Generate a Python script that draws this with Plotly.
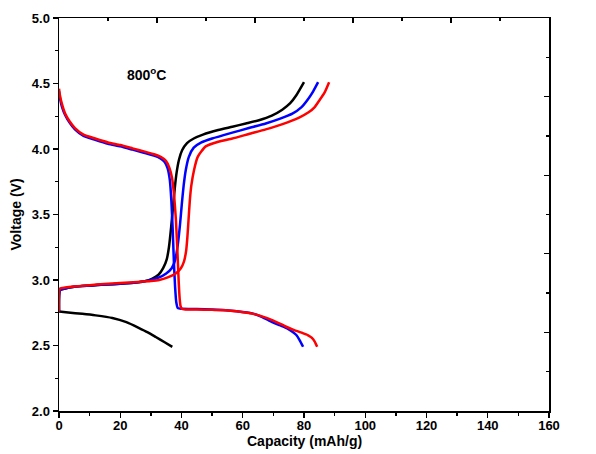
import plotly.graph_objects as go

# ---- data (capacity mAh/g, voltage V) ----
black_dis_cap = [0, 3, 7.6, 12, 17.4, 22, 26, 29, 31.6, 34.5, 37]
black_dis_v = [2.76, 2.752, 2.742, 2.73, 2.71, 2.678, 2.635, 2.6, 2.565, 2.525, 2.49]

black_chg_cap = [0, 0.3, 2, 5, 10, 15, 20, 25, 28, 30.5, 32.5, 34, 35.2, 35.9, 36.6, 37.2, 37.8, 38.4, 39.2, 40.2, 41.8, 44, 47, 52, 56.6, 61, 65.3, 69.5, 72.9, 75.5, 77.5, 80]
black_chg_v = [2.76, 2.92, 2.935, 2.948, 2.957, 2.965, 2.972, 2.98, 2.99, 3.01, 3.04, 3.09, 3.16, 3.25, 3.4, 3.55, 3.7, 3.82, 3.92, 3.99, 4.045, 4.08, 4.11, 4.145, 4.17, 4.195, 4.22, 4.255, 4.30, 4.35, 4.41, 4.51]

blue_dis_cap = [0, 0.3, 1, 2, 3.5, 5.2, 8, 11.8, 16, 20, 24, 28, 31, 33, 34.5, 35.5, 36.2, 36.7, 37.1, 37.5, 37.9, 38.3, 38.8, 40, 45, 50, 54.4, 58, 63.1, 66, 68.6, 72, 74.5, 76.2, 77.5, 78.6, 79.7]
blue_dis_v = [4.44, 4.39, 4.32, 4.26, 4.2, 4.15, 4.1, 4.07, 4.04, 4.02, 3.995, 3.97, 3.95, 3.93, 3.9, 3.85, 3.76, 3.6, 3.4, 3.15, 2.95, 2.83, 2.785, 2.78, 2.778, 2.775, 2.77, 2.762, 2.745, 2.72, 2.69, 2.655, 2.63, 2.605, 2.58, 2.54, 2.49]

blue_chg_cap = [0, 0.3, 2, 5, 10, 15, 20, 25, 29, 32.7, 35, 36.8, 38, 38.8, 39.5, 40.1, 40.7, 41.4, 42.4, 44, 46.5, 50, 56.6, 62, 67.5, 72, 76.2, 79.2, 81.3, 83, 84.6]
blue_chg_v = [2.76, 2.92, 2.935, 2.948, 2.957, 2.965, 2.972, 2.98, 2.995, 3.02, 3.05, 3.09, 3.16, 3.27, 3.42, 3.58, 3.72, 3.84, 3.94, 4.01, 4.05, 4.08, 4.125, 4.16, 4.195, 4.23, 4.27, 4.32, 4.38, 4.44, 4.51]

red_dis_cap = [0, 0.3, 1, 2, 3.5, 5.2, 8, 11.8, 16, 20, 24, 28, 31, 33.2, 34.9, 36, 36.9, 37.6, 38.2, 38.7, 39.1, 39.4, 39.7, 40.2, 41.5, 45, 50, 54.4, 58, 62, 65.3, 70, 74, 77, 79.5, 81.2, 82.5, 83.5, 84.3]
red_dis_v = [4.46, 4.41, 4.34, 4.27, 4.21, 4.16, 4.11, 4.08, 4.05, 4.03, 4.005, 3.98, 3.96, 3.94, 3.91, 3.86, 3.78, 3.64, 3.45, 3.2, 2.98, 2.86, 2.8, 2.778, 2.775, 2.774, 2.772, 2.77, 2.762, 2.748, 2.73, 2.69, 2.645, 2.615, 2.595, 2.58, 2.56, 2.53, 2.49]

red_chg_cap = [0, 0.3, 2, 4.9, 10, 14.7, 20, 25.6, 30, 32.7, 35.5, 38.1, 39.8, 40.8, 41.5, 41.9, 42.3, 42.7, 43.2, 44.1, 45.3, 47.9, 52, 56.6, 62, 67.5, 73, 78.4, 81.5, 83.5, 85, 86.7, 88.2]
red_chg_v = [2.76, 2.935, 2.942, 2.95, 2.96, 2.97, 2.977, 2.985, 2.992, 3.0, 3.02, 3.05, 3.09, 3.14, 3.22, 3.32, 3.46, 3.6, 3.72, 3.84, 3.94, 4.02, 4.055, 4.08, 4.115, 4.15, 4.19, 4.24, 4.28, 4.32, 4.37, 4.43, 4.51]

x_ticks = [0, 20, 40, 60, 80, 100, 120, 140, 160]
y_ticks = [2.0, 2.5, 3.0, 3.5, 4.0, 4.5, 5.0]

FONT = "Liberation Sans, Arial, sans-serif"

fig = go.Figure()

series = [
    (black_dis_cap, black_dis_v, "black"),
    (black_chg_cap, black_chg_v, "black"),
    (blue_dis_cap, blue_dis_v, "#0000FF"),
    (blue_chg_cap, blue_chg_v, "#0000FF"),
    (red_dis_cap, red_dis_v, "#FF0000"),
    (red_chg_cap, red_chg_v, "#FF0000"),
]
for xs, ys, c in series:
    fig.add_trace(go.Scatter(x=xs, y=ys, mode="lines",
                             line=dict(color=c, width=2.5, shape="spline", smoothing=0.5),
                             showlegend=False, hoverinfo="skip"))

# invisible trace for the top/right decorative axes
fig.add_trace(go.Scatter(x=[0, 10], y=[0, 10], xaxis="x2", yaxis="y2", mode="markers",
                         marker=dict(opacity=0), showlegend=False, hoverinfo="skip"))

fig.add_annotation(x=21.5, y=4.57, xref="x", yref="y", text="<b>800<sup>o</sup>C</b>",
                   showarrow=False, xanchor="left", yanchor="middle",
                   font=dict(family=FONT, size=14, color="black"))

# axis titles as annotations (kept clear of the tick labels)
fig.add_annotation(x=0.5, y=0, xref="paper", yref="paper", text="<b>Capacity (mAh/g)</b>",
                   showarrow=False, xanchor="center", yanchor="middle", yshift=-30,
                   font=dict(family=FONT, size=14, color="black"))
fig.add_annotation(x=0, y=0.5, xref="paper", yref="paper", text="<b>Voltage (V)</b>",
                   showarrow=False, xanchor="center", yanchor="middle", xshift=-44, textangle=-90,
                   font=dict(family=FONT, size=14, color="black"))

fig.update_layout(
    width=596, height=454,
    margin=dict(l=59, r=47, t=18, b=43, autoexpand=False),
    paper_bgcolor="white", plot_bgcolor="white",
    font=dict(family=FONT, size=13, color="black"),
    xaxis=dict(range=[0, 160], tickvals=x_ticks, ticktext=["<b>%d</b>" % v for v in x_ticks],
               ticks="outside", ticklen=5, tickwidth=1.3, tickcolor="black",
               minor=dict(dtick=10, tick0=0, ticks="outside", ticklen=3, tickwidth=1.3, tickcolor="black"),
               showline=True, linecolor="black", linewidth=1.5, mirror=True,
               showgrid=False, zeroline=False, ticklabelstandoff=-3,
               tickfont=dict(family=FONT, size=13, color="black")),
    yaxis=dict(range=[2.0, 5.0], tickvals=y_ticks, ticktext=["<b>%.1f</b>" % v for v in y_ticks],
               ticks="outside", ticklen=5, tickwidth=1.3, tickcolor="black",
               minor=dict(dtick=0.25, tick0=2.0, ticks="outside", ticklen=3, tickwidth=1.3, tickcolor="black"),
               showline=True, linecolor="black", linewidth=1.5, mirror=True,
               showgrid=False, zeroline=False,
               tickfont=dict(family=FONT, size=13, color="black")),
    xaxis2=dict(overlaying="x", side="top", range=[0, 10], tick0=0, dtick=2,
                ticks="inside", ticklen=5, tickwidth=1.3, tickcolor="black",
                minor=dict(dtick=1, ticks="inside", ticklen=3, tickwidth=1.3, tickcolor="black"),
                showticklabels=False, showgrid=False, zeroline=False, showline=False),
    yaxis2=dict(overlaying="y", side="right", range=[0, 10], tick0=0, dtick=2,
                ticks="inside", ticklen=5, tickwidth=1.3, tickcolor="black",
                minor=dict(dtick=1, ticks="inside", ticklen=3, tickwidth=1.3, tickcolor="black"),
                showticklabels=False, showgrid=False, zeroline=False, showline=False),
)

# remove the page's default 8px body margin so the 596x454 figure fills the window
fig.write_html("out.html", config={"displayModeBar": False, "staticPlot": True},
               post_script="document.body.style.margin='0';document.body.style.overflow='hidden';")
